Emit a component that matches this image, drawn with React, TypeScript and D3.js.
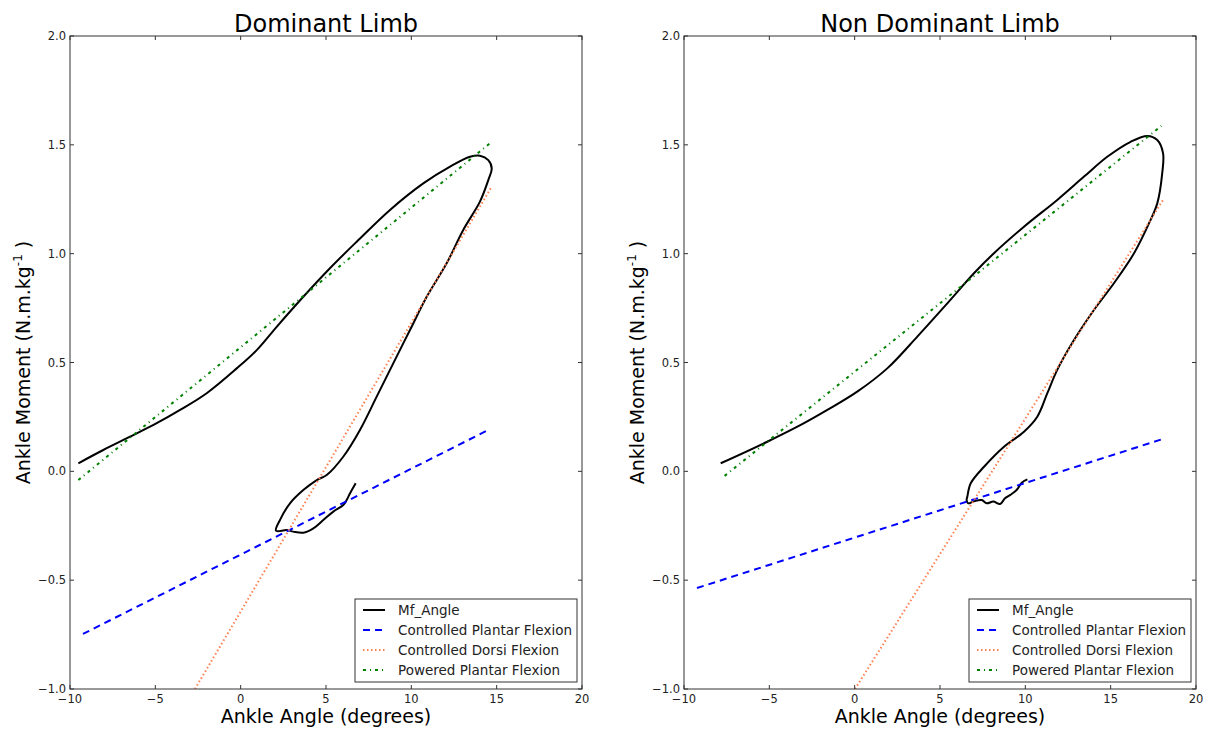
import React, { useEffect } from "react";
import * as d3 from "d3";

// Ankle moment vs ankle angle loops, dominant and non dominant limb, with the three phase fits.

const X_TICKS = [-10, -5, 0, 5, 10, 15, 20];
const Y_TICKS = [-1, -0.5, 0, 0.5, 1, 1.5, 2];
const TITLES = ["Dominant Limb", "Non Dominant Limb"];
const SERIES_NAMES = ["Mf_Angle", "Controlled Plantar Flexion", "Controlled Dorsi Flexion", "Powered Plantar Flexion"];

// Dominant limb loop
const domAngle = [
  -9.51, -8.05, -6.48, -4.92, -3.55, -1.99, -0.23, 0.94, 2.11, 3.67, 5.23, 6.8, 8.75, 10.7, 12.27, 13.44, 14.02,
  14.51, 14.71, 14.51, 14.02, 13.04, 12.07, 10.9, 9.92, 8.94, 7.97, 6.99, 6.01, 5.04, 4.46, 3.67, 2.89, 2.3, 2.07,
  2.7, 3.08, 3.67, 4.26, 4.84, 5.43, 6.01, 6.21, 6.41, 6.74,
];
const domMoment = [
  0.037, 0.098, 0.159, 0.221, 0.282, 0.359, 0.473, 0.557, 0.664, 0.802, 0.933, 1.055, 1.201, 1.323, 1.4, 1.445, 1.45,
  1.43, 1.392, 1.338, 1.239, 1.109, 0.956, 0.802, 0.649, 0.496, 0.343, 0.19, 0.067, -0.017, -0.04, -0.086, -0.147,
  -0.224, -0.273, -0.27, -0.277, -0.282, -0.262, -0.224, -0.185, -0.155, -0.132, -0.101, -0.055,
];

// Non dominant limb loop
const ndAngle = [
  -7.85, -5.12, -3.16, -1.6, 0.15, 1.91, 3.67, 5.43, 6.99, 8.16, 9.92, 11.87, 13.44, 14.8, 16.17, 17.15, 17.73,
  18.07, 18.02, 17.73, 17.25, 16.37, 15.19, 14.02, 12.85, 11.87, 11.29, 10.7, 9.92, 8.75, 7.58, 6.8, 6.6, 6.56, 6.66,
  6.95, 7.44, 7.74, 8.12, 8.52, 8.81, 9.1, 9.49, 9.79, 10.12,
];
const ndMoment = [
  0.037, 0.136, 0.213, 0.282, 0.366, 0.473, 0.619, 0.772, 0.91, 1.002, 1.124, 1.247, 1.354, 1.445, 1.514, 1.541,
  1.522, 1.461, 1.369, 1.231, 1.14, 1.002, 0.864, 0.741, 0.603, 0.466, 0.359, 0.251, 0.182, 0.113, 0.021, -0.055,
  -0.117, -0.132, -0.147, -0.139, -0.132, -0.147, -0.139, -0.15, -0.124, -0.109, -0.086, -0.052, -0.037,
];

// Linear fits: [angle start, angle end], [moment start, moment end]
const domCpfAngle = [-9.24, 14.51];
const domCpfMoment = [-0.747, 0.19];
const domCdfAngle = [-2.68, 14.71];
const domCdfMoment = [-1.0, 1.308];
const domPpfAngle = [-9.51, 14.65];
const domPpfMoment = [-0.04, 1.51];

const ndCpfAngle = [-9.24, 18.07];
const ndCpfMoment = [-0.536, 0.149];
const ndCdfAngle = [0.02, 18.07];
const ndCdfMoment = [-1.0, 1.247];
const ndPpfAngle = [-7.62, 17.97];
const ndPpfMoment = [-0.021, 1.587];

const STYLES = [
  { color: "#000000", dash: null, width: 2 },
  { color: "#0000ff", dash: "7,5", width: 2 },
  { color: "#ff7f50", dash: "1.5,2.5", width: 2 },
  { color: "#008000", dash: "3,4,1,4", width: 2 },
];

const FONT = "'DejaVu Sans', sans-serif";
const zip = (a: number[], b: number[]) => a.map((v, i) => [v, b[i]] as [number, number]);

const panels = [
  {
    left: 70,
    series: [zip(domAngle, domMoment), zip(domCpfAngle, domCpfMoment), zip(domCdfAngle, domCdfMoment), zip(domPpfAngle, domPpfMoment)],
  },
  {
    left: 684,
    series: [zip(ndAngle, ndMoment), zip(ndCpfAngle, ndCpfMoment), zip(ndCdfAngle, ndCdfMoment), zip(ndPpfAngle, ndPpfMoment)],
  },
];

const TOP = 36;
const BOTTOM = 689;
const W = 512;

function Panel({ idx }: { idx: number }) {
  const p = panels[idx];
  const x = d3.scaleLinear().domain([-10, 20]).range([p.left, p.left + W]);
  const y = d3.scaleLinear().domain([-1, 2]).range([BOTTOM, TOP]);
  const loop = d3
    .line<[number, number]>()
    .x((d) => x(d[0]))
    .y((d) => y(d[1]))
    .curve(d3.curveCatmullRom.alpha(0.5));
  const straight = d3
    .line<[number, number]>()
    .x((d) => x(d[0]))
    .y((d) => y(d[1]));
  const clipId = `clip${idx}`;
  const cx = p.left + W / 2;
  const cy = (TOP + BOTTOM) / 2;
  const fmtY = d3.format(".1f");
  const lx = p.left + 285;
  const ly = 599;

  return (
    <g>
      <defs>
        <clipPath id={clipId}>
          <rect x={p.left} y={TOP} width={W} height={BOTTOM - TOP} />
        </clipPath>
      </defs>
      <g clipPath={`url(#${clipId})`}>
        {p.series.map((s, i) => (
          <path
            key={i}
            d={(i === 0 ? loop : straight)(s) || ""}
            fill="none"
            stroke={STYLES[i].color}
            strokeWidth={STYLES[i].width}
            strokeDasharray={STYLES[i].dash || undefined}
            strokeLinejoin="round"
          />
        ))}
      </g>
      <rect x={p.left} y={TOP} width={W} height={BOTTOM - TOP} fill="none" stroke="#333" strokeWidth={1} />
      {X_TICKS.map((t) => (
        <g key={`x${t}`}>
          <line x1={x(t)} x2={x(t)} y1={BOTTOM} y2={BOTTOM - 4} stroke="#333" />
          <line x1={x(t)} x2={x(t)} y1={TOP} y2={TOP + 4} stroke="#333" />
          <text x={x(t)} y={703} textAnchor="middle" fontSize={11.5} fontFamily={FONT} fill="#222">
            {t < 0 ? `\u2212${Math.abs(t)}` : t}
          </text>
        </g>
      ))}
      {Y_TICKS.map((t) => (
        <g key={`y${t}`}>
          <line x1={p.left} x2={p.left + 4} y1={y(t)} y2={y(t)} stroke="#333" />
          <line x1={p.left + W} x2={p.left + W - 4} y1={y(t)} y2={y(t)} stroke="#333" />
          <text x={p.left - 4} y={y(t)} dy="0.35em" textAnchor="end" fontSize={11.5} fontFamily={FONT} fill="#222">
            {t < 0 ? `\u2212${fmtY(Math.abs(t))}` : fmtY(t)}
          </text>
        </g>
      ))}
      <text x={cx} y={32} textAnchor="middle" fontSize={24} fontFamily={FONT} fill="#000">
        {TITLES[idx]}
      </text>
      <text x={cx} y={723} textAnchor="middle" fontSize={19} fontFamily={FONT} fill="#000">
        Ankle Angle (degrees)
      </text>
      <text
        transform={`translate(${p.left - 40},${cy}) rotate(-90)`}
        textAnchor="middle"
        fontSize={19}
        fontFamily={FONT}
        fill="#000"
      >
        Ankle Moment (N.m.kg
        <tspan fontSize={12} dy={-8}>
          -1
        </tspan>
        <tspan dy={8}> )</tspan>
      </text>
      <g>
        <rect x={lx} y={ly} width={222} height={83} fill="#fff" stroke="#333" strokeWidth={1} />
        {SERIES_NAMES.map((name, i) => (
          <g key={name}>
            <line
              x1={lx + 8}
              x2={lx + 30}
              y1={ly + 11 + i * 20}
              y2={ly + 11 + i * 20}
              stroke={STYLES[i].color}
              strokeWidth={STYLES[i].width}
              strokeDasharray={STYLES[i].dash || undefined}
            />
            <text x={lx + 43} y={ly + 11 + i * 20} dy="0.35em" fontSize={13.5} fontFamily={FONT} fill="#222">
              {name}
            </text>
          </g>
        ))}
      </g>
    </g>
  );
}

export default function App() {
  useEffect(() => {
    document.body.style.margin = "0";
  }, []);
  return (
    <svg width={1208} height={731} style={{ display: "block", background: "#fff" }}>
      <Panel idx={0} />
      <Panel idx={1} />
    </svg>
  );
}
